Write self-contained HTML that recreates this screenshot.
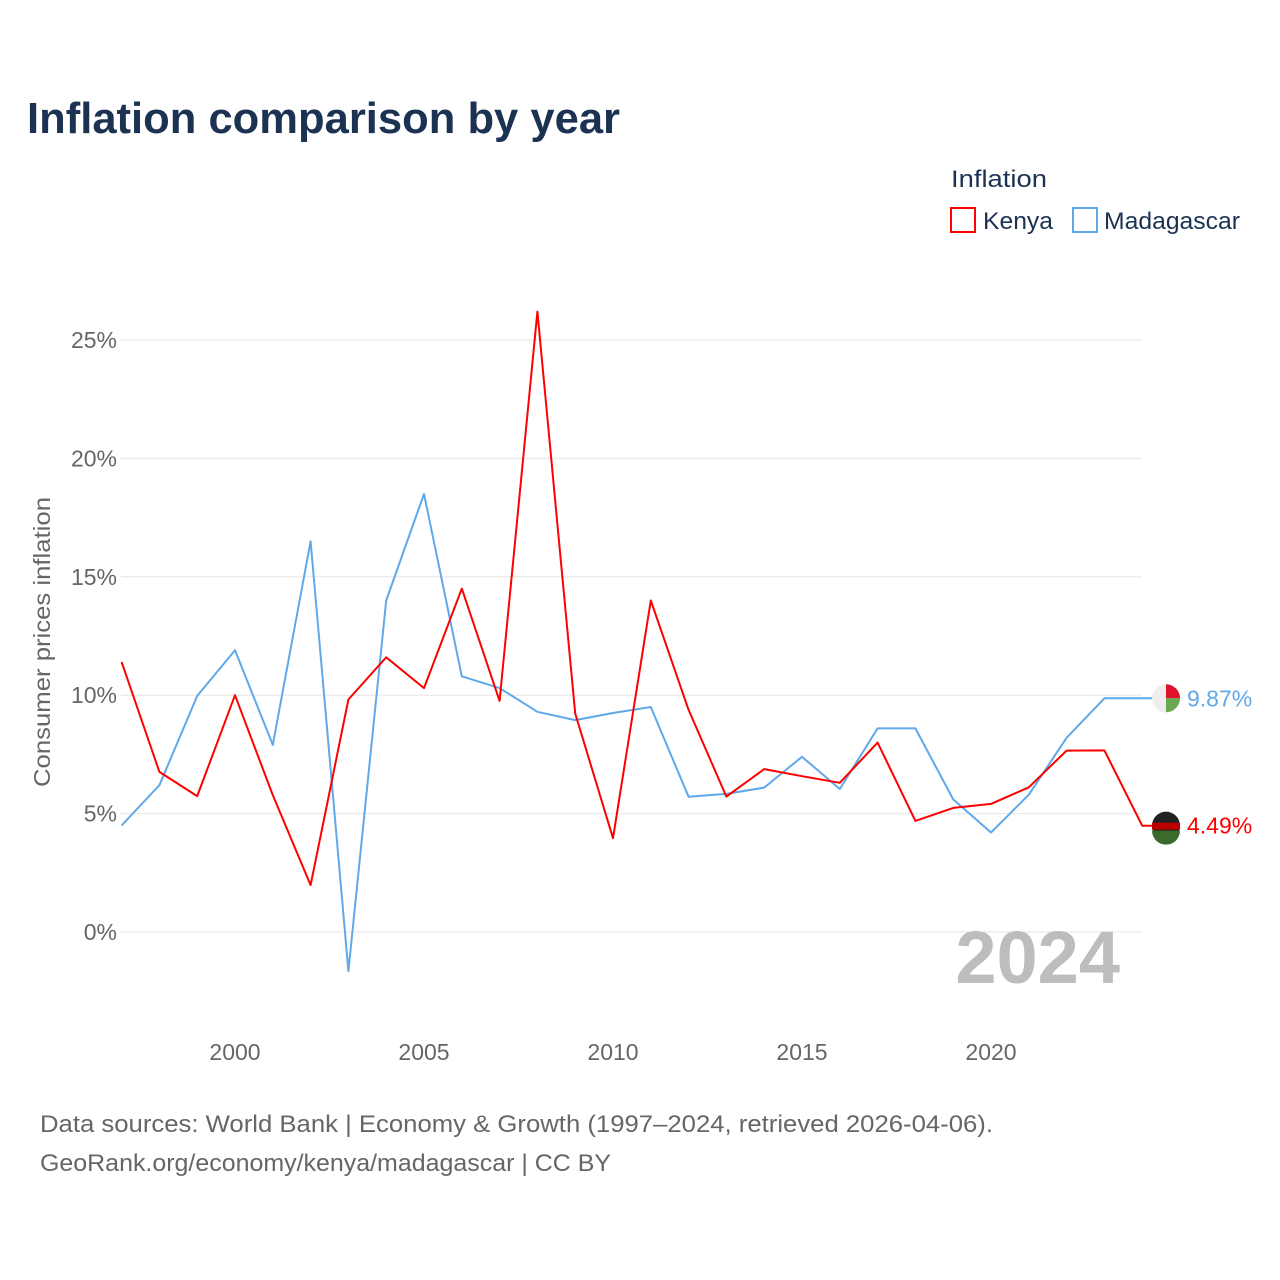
<!DOCTYPE html>
<html><head><meta charset="utf-8"><style>
body{margin:0;background:#fff;font-family:"Liberation Sans",sans-serif;}
#wrap{position:relative;width:1280px;height:1280px;overflow:hidden;}
</style></head><body>
<div id="wrap">
<svg id="chart" width="1280" height="1280">
<text x="27" y="133" font-size="44" font-weight="bold" fill="#1b3252" textLength="593" lengthAdjust="spacingAndGlyphs">Inflation comparison by year</text>
<text x="951" y="187" font-size="24" fill="#1b3252" textLength="96" lengthAdjust="spacingAndGlyphs">Inflation</text>
<g><rect x="951" y="208" width="24" height="24" fill="none" stroke="#f00" stroke-width="2"/><text x="983" y="229" font-size="24" fill="#1b3252" textLength="70" lengthAdjust="spacingAndGlyphs">Kenya</text></g>
<g><rect x="1073" y="208" width="24" height="24" fill="none" stroke="#5fa8ea" stroke-width="2"/><text x="1104" y="229" font-size="24" fill="#1b3252" textLength="136" lengthAdjust="spacingAndGlyphs">Madagascar</text></g>
<text transform="translate(50,642) rotate(-90)" text-anchor="middle" font-size="23" fill="#666" textLength="290" lengthAdjust="spacingAndGlyphs">Consumer prices inflation</text>
<g id="grid"></g><g id="series"></g>
<text x="1120" y="983" text-anchor="end" font-size="74" font-weight="bold" fill="#bdbdbd">2024</text>
<text x="40" y="1132" font-size="24" fill="#666" textLength="953" lengthAdjust="spacingAndGlyphs">Data sources: World Bank | Economy &amp; Growth (1997–2024, retrieved 2026-04-06).</text>
<text x="40" y="1171" font-size="24" fill="#666" textLength="571" lengthAdjust="spacingAndGlyphs">GeoRank.org/economy/kenya/madagascar | CC BY</text>
</svg></div>
<script>
const years=[1997,1998,1999,2000,2001,2002,2003,2004,2005,2006,2007,2008,2009,2010,2011,2012,2013,2014,2015,2016,2017,2018,2019,2020,2021,2022,2023,2024];
const kenya=[11.4,6.76,5.74,10.0,5.78,1.98,9.82,11.6,10.3,14.5,9.76,26.2,9.23,3.96,14.0,9.38,5.72,6.88,6.58,6.30,8.0,4.69,5.24,5.41,6.11,7.66,7.67,4.49];
const madagascar=[4.5,6.2,9.97,11.9,7.9,16.5,-1.65,14.0,18.5,10.8,10.3,9.3,8.95,9.25,9.5,5.71,5.83,6.1,7.4,6.04,8.6,8.6,5.6,4.2,5.8,8.2,9.87,9.87];
const yTicks=[0,5,10,15,20,25];
const xTicks=[2000,2005,2010,2015,2020];
const NS="http://www.w3.org/2000/svg";
const x=v=>235+(v-2000)*37.8;
const y=v=>932-v*23.68;
const grid=document.getElementById('grid'),ser=document.getElementById('series');
function mk(tag,attrs,parent){const e=document.createElementNS(NS,tag);for(const k in attrs)e.setAttribute(k,attrs[k]);parent.appendChild(e);return e;}
yTicks.forEach(t=>{
 const l=mk('line',{x1:121,x2:1142,y1:y(t),y2:y(t),stroke:'#e6e6e6','stroke-width':1},grid);
 
 
 const tx=mk('text',{x:117,y:y(t)+8,'text-anchor':'end','font-size':23,fill:'#666'},grid);
 tx.textContent=t+'%';
 
 
});
xTicks.forEach(t=>{
 const tx=mk('text',{x:x(t),y:1060,'text-anchor':'middle','font-size':23,fill:'#666'},grid);
 tx.textContent=t;
 
 
});
function line(vals,color,name){
 const last=vals[vals.length-1];
 let d=vals.map((v,i)=>(i?'L':'M')+x(years[i]).toFixed(1)+' '+y(v).toFixed(1)).join(' ');
 d+=' L1165 '+y(last).toFixed(1);
 const p=mk('path',{d:d,fill:'none',stroke:color,'stroke-width':2,'stroke-linejoin':'round'},ser);
 
 
 const c=mk('circle',{cx:1166,cy:y(last),r:14,fill:name==='kenya'?'#222':'#eee'},ser);
 
 
 if(name==='kenya'){
  mk('rect',{x:1152,y:y(last)-3,width:28,height:7,fill:'#b00'},ser);
  mk('path',{d:`M1152 ${y(last)+5} h28 a14 14 0 0 1 -28 0z`,fill:'#3a6b2a'},ser);
 } else {
  mk('path',{d:`M1166 ${y(last)-14} a14 14 0 0 1 14 14 h-14z`,fill:'#e0112b'},ser);
  mk('path',{d:`M1166 ${y(last)} h14 a14 14 0 0 1 -14 14z`,fill:'#6aa84f'},ser);
 }
 const t=mk('text',{x:1187,y:y(last)+8,'font-size':23,fill:color},ser);
 t.textContent=last.toFixed(2)+'%';
 
 
}
line(madagascar,'#5fa8ea','madagascar');
line(kenya,'#ff0000','kenya');
</script>
</body></html>
